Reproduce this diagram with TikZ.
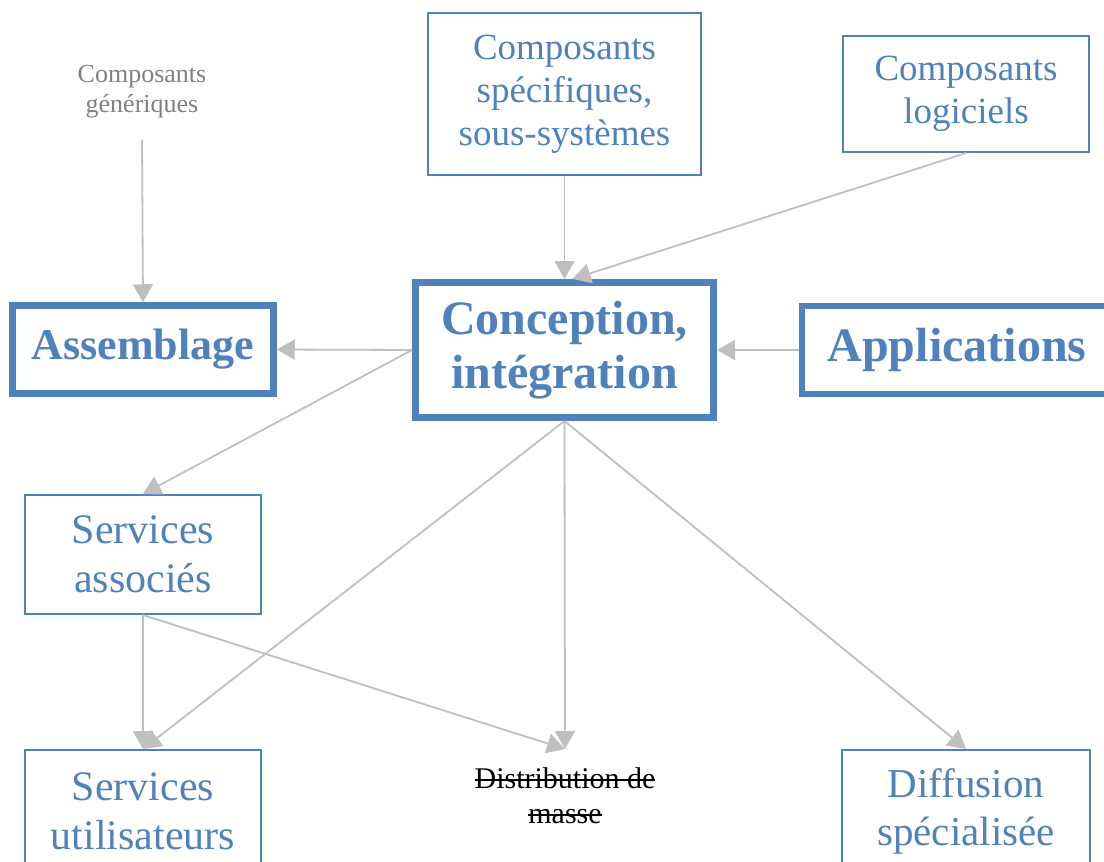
\documentclass[tikz,border=0pt]{standalone}
\usepackage{fontspec}
\setmainfont{Liberation Serif}
\usetikzlibrary{arrows.meta}
\definecolor{boxblue}{HTML}{4F81BD}
\definecolor{arrowgray}{HTML}{BFBFBF}
\definecolor{labelgray}{HTML}{808080}
\newcommand{\barred}[1]{\sbox0{#1}\rlap{\rule[0.24em]{\wd0}{1.6pt}}\usebox0}

\begin{document}
\begin{tikzpicture}[x=1pt,y=-1pt,
  thinbox/.style={draw=boxblue,line width=2pt,text=boxblue,align=center,inner sep=0pt},
  thickbox/.style={draw=boxblue,line width=6.5pt,text=boxblue,align=center,inner sep=0pt},
  flow/.style={draw=arrowgray,line width=1.8pt,-{Triangle[length=18pt,width=20pt]}}]
  \useasboundingbox (0,0) rectangle (1104,862);
  \clip (0,0) rectangle (1104,862);
  % sources
  \node[text=labelgray,align=center,font=\fontsize{26}{30}\selectfont,inner xsep=0pt,inner ysep=21pt] (gen) at (142,92) {Composants\\génériques};
  \node[thinbox,minimum width=273pt,minimum height=162pt,font=\fontsize{37}{43}\selectfont] (spec) at (564.5,94) {Composants\\spécifiques,\\sous-systèmes};
  \node[thinbox,minimum width=246pt,minimum height=116pt,font=\fontsize{37}{43}\selectfont] (logi) at (966,94) {Composants\\logiciels};
  % middle row
  \node[thickbox,minimum width=261pt,minimum height=88pt,font=\bfseries\fontsize{44}{50}\selectfont] (assem) at (143,349.5) {Assemblage};
  \node[thickbox,line width=7pt,minimum width=298pt,minimum height=135pt,font=\bfseries\fontsize{48}{54}\selectfont] (concep) at (564.5,350) {Conception,\\intégration};
  \node[thickbox,minimum width=310pt,minimum height=88pt,font=\bfseries\fontsize{48}{54}\selectfont] (appli) at (957,350) {Applications};
  % outputs
  \node[thinbox,minimum width=236pt,minimum height=119pt,font=\fontsize{42}{49}\selectfont] (servassoc) at (143,554.5) {Services\\associés};
  \node[thinbox,minimum width=236pt,minimum height=122pt,font=\fontsize{42}{49}\selectfont] (servutil) at (143,811) {Services\\utilisateurs};
  \node[anchor=north,align=center,font=\fontsize{30}{35}\selectfont,inner xsep=0pt,inner ysep=18pt] (distrib) at (565,749) {\barred{Distribution de}\\\barred{masse}};
  \node[thinbox,minimum width=248pt,minimum height=122pt,font=\fontsize{41}{48}\selectfont] (diff) at (966,811) {Diffusion\\spécialisée};
  % arrows
  \draw[flow] (gen.south) -- (assem.north);
  \draw[flow] (spec.south) -- (concep.north);
  \draw[flow] (logi.south) -- ([xshift=8pt]concep.north);
  \draw[flow] (concep.west) -- (assem.east);
  \draw[flow] (appli.west) -- (concep.east);
  \draw[flow] (concep.west) -- (servassoc.north);
  \draw[flow] (concep.south) -- (servutil.north);
  \draw[flow] (concep.south) -- (distrib.north);
  \draw[flow] (concep.south) -- (diff.north);
  \draw[flow] (servassoc.south) -- (servutil.north);
  \draw[flow] (servassoc.south) -- (distrib.north);
\end{tikzpicture}
\end{document}
